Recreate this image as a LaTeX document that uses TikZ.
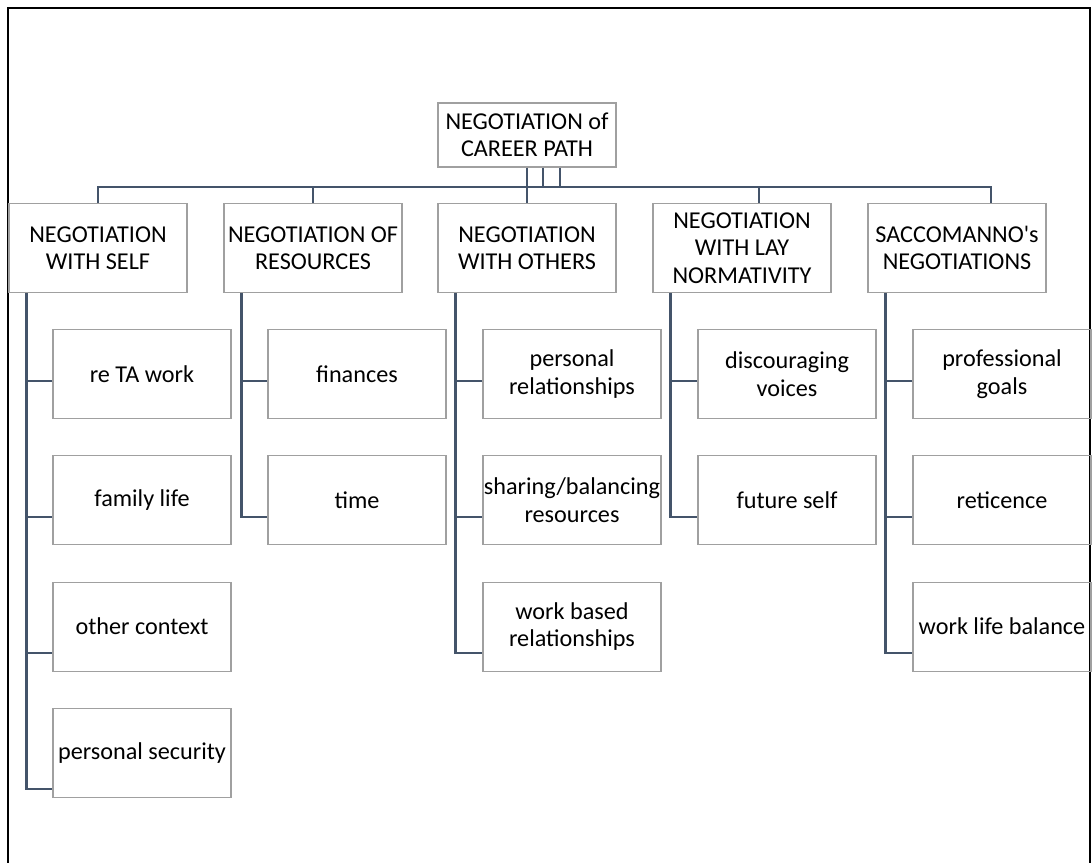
\documentclass[tikz,border=0pt]{standalone}
\usepackage{fontspec}
\setmainfont{Carlito}
\definecolor{linkcol}{HTML}{44546A}
\definecolor{boxcol}{HTML}{A0A0A0}

\begin{document}
\begin{tikzpicture}[x=1pt, y=-1pt, align=center, box/.style={rectangle,
  draw=boxcol, line width=1.2pt, minimum width=178pt, minimum height=89pt,
  inner sep=0pt}, link/.style={draw=linkcol, line width=2.6pt}, every
  node/.style={font=\fontsize{24.2}{27.5}\selectfont} ]

\useasboundingbox (0,0) rectangle (1092,862);
\draw[line width=1.8pt] (8,870) -- (8,8) -- (1090,8) -- (1090,870);

% Top node
\node[box, minimum height=64pt] (root) at (527,135) {NEGOTIATION of\\CAREER PATH};

% Negotiation layer
\node[box] (self) at (98,248) {NEGOTIATION\\WITH SELF};
\node[box] (res) at (313,248) {NEGOTIATION OF\\RESOURCES};
\node[box] (others) at (527,248) {NEGOTIATION\\WITH OTHERS};
\node[box] (lay) at (742,248) {NEGOTIATION\\WITH LAY\\NORMATIVITY};
\node[box] (sacc) at (957,248) {SACCOMANNO\textquotesingle s\\NEGOTIATIONS};

% Sub-themes
\foreach \t [count=\i] in {re TA work, family life, other context, personal
  security} { \node[box] (self\i) at (142,{374+(\i-1)*126.3}) {\t}; }
\foreach \t [count=\i] in {finances, time} { \node[box] (res\i) at
  (357,{374+(\i-1)*126.3}) {\t}; }
\foreach \t [count=\i] in {{personal\\relationships},
  {sharing/balancing\\resources}, {work based\\relationships}} { \node[box]
  (others\i) at (572,{374+(\i-1)*126.3}) {\t}; }
\foreach \t [count=\i] in {{discouraging\\voices}, future self} { \node[box]
  (lay\i) at (787,{374+(\i-1)*126.3}) {\t}; }
\foreach \t [count=\i] in {{professional\\goals}, reticence, work life balance}
  { \node[box] (sacc\i) at (1002,{374+(\i-1)*126.3}) {\t}; }

% Connections top -> negotiation layer
\draw[link] (self.north) -- ++(0,-16) -| ([xshift=34pt]sacc.north);
\draw[link] (root.south) -- (others.north);
\foreach \s in {16,33} \draw[link] ([xshift=\s pt]root.south) -- ++(0,20);
\draw[link] (res.north) -- ++(0,-16);
\draw[link] ([xshift=17pt]lay.north) -- ++(0,-16);

% Connections negotiation layer -> sub-themes
\foreach \p/\n in {self/4, res/2, others/3, lay/2, sacc/3} \foreach \i in
  {1,...,\n} \draw[link] ([xshift=18pt]\p.south west) |-
  ([yshift={-(7+9.7*(\i-1))*1pt}]\p\i.west);

\end{tikzpicture}
\end{document}
